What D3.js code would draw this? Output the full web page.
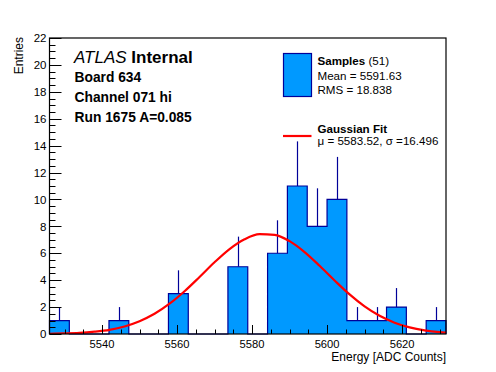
<!DOCTYPE html>
<html>
<head>
<meta charset="utf-8">
<script src="https://cdn.jsdelivr.net/npm/d3@7/dist/d3.min.js"></script>
<style>
html,body{margin:0;padding:0;background:#fff;}
svg{display:block;font-family:"Liberation Sans",Arial,Helvetica,sans-serif;}
</style>
</head>
<body>
<svg id="chart" width="496" height="372"></svg>
<script>
// ---- data ----
const xRange = [5526.0, 5631.7];          // histogram range (20 bins)
const counts = [1,0,0,1,0,0,3,0,0,5,0,6,11,8,10,1,1,2,0,1];
const xTicks = [5540, 5560, 5580, 5600, 5620];
const yTicks = [0,2,4,6,8,10,12,14,16,18,20,22];
// Gaussian fit curve
const fitX = [5526,5530,5534,5538,5542,5546,5550,5554,5558,5562,5566,5570,5574,5578,5582,5586,5590,5594,5598,5602,5606,5610,5614,5618,5622,5626,5630,5632];
const fitY = [0.02,0.04,0.08,0.17,0.31,0.56,0.95,1.50,2.25,3.18,4.24,5.33,6.31,7.04,7.42,7.37,6.90,6.09,5.07,3.98,2.94,2.05,1.35,0.84,0.49,0.27,0.14,0.10];
const legendSamples = ["Samples", "(51)", "Mean = 5591.63", "RMS = 18.838"];
const legendFit = ["Gaussian Fit", "\u03bc = 5583.52, \u03c3 =16.496"];
const labelLines = ["Board 634", "Channel 071 hi", "Run 1675 A=0.085"];

// ---- layout ----
const L = 49.5, R = 446, T = 38, B = 334;
const svg = d3.select("#chart");
const x = d3.scaleLinear().domain(xRange).range([L, R]);
const y = d3.scaleLinear().domain([0, 22]).range([B, T]);

const fillC = "#0099ff", lineC = "#000099";
const nb = counts.length;
const bw = (xRange[1] - xRange[0]) / nb;
const bins = counts.map((c, i) => ({x0: xRange[0] + i*bw, x1: xRange[0] + (i+1)*bw, c}));

// histogram step outline
const pts = [];
pts.push([bins[0].x0, 0]);
bins.forEach(b => { pts.push([b.x0, b.c]); pts.push([b.x1, b.c]); });
pts.push([bins[nb-1].x1, 0]);
const line = d3.line().x(d => x(d[0])).y(d => y(d[1]));
svg.append("path").attr("d", line(pts)).attr("fill", fillC).attr("stroke", lineC).attr("stroke-width", 1.2);

// error bars (upper part visible)
svg.append("g").selectAll("line").data(bins.filter(b => b.c > 0)).join("line")
  .attr("x1", b => Math.round(x((b.x0+b.x1)/2))+0.5).attr("x2", b => Math.round(x((b.x0+b.x1)/2))+0.5)
  .attr("y1", b => y(b.c)).attr("y2", b => y(b.c + Math.sqrt(b.c)))
  .attr("stroke", lineC).attr("stroke-width", 1.2);

// fit curve
svg.append("clipPath").attr("id","clip").append("rect").attr("x",L).attr("y",T).attr("width",R-L).attr("height",B-T);
const fitLine = d3.line().x((d,i) => x(fitX[i])).y(d => y(d)).curve(d3.curveMonotoneX);
svg.append("path").attr("d", fitLine(fitY)).attr("fill","none").attr("stroke","#ff0000").attr("stroke-width",2.2).attr("clip-path","url(#clip)");

// frame
svg.append("rect").attr("x", L).attr("y", T).attr("width", R-L).attr("height", B-T)
  .attr("fill","none").attr("stroke","#000").attr("stroke-width",1.2);

// y axis ticks
const yMinor = d3.range(0, 22.01, 0.5);
svg.append("g").selectAll("line").data(yMinor).join("line")
  .attr("x1", L).attr("x2", d => L + (d % 2 === 0 ? 12 : 6))
  .attr("y1", d => Math.round(y(d))+0.5).attr("y2", d => Math.round(y(d))+0.5)
  .attr("stroke","#000").attr("stroke-width",1);
svg.append("g").selectAll("text").data(yTicks).join("text")
  .attr("x", L - 3).attr("y", d => y(d) + 4.2)
  .attr("text-anchor","end").attr("font-size", "11.5px").text(d => d);

// x axis ticks
const xMinor = d3.range(5530, 5631, 5);
svg.append("g").selectAll("line").data(xMinor).join("line")
  .attr("x1", d => Math.round(x(d))+0.5).attr("x2", d => Math.round(x(d))+0.5)
  .attr("y1", B).attr("y2", d => B - (d % 20 === 0 ? 9 : 4.5))
  .attr("stroke","#000").attr("stroke-width",1);
svg.append("g").selectAll("text").data(xTicks).join("text")
  .attr("x", d => x(d)).attr("y", 347.5)
  .attr("text-anchor","middle").attr("font-size","11.2px").text(d => d);

// axis titles
svg.append("text").attr("x", R).attr("y", 360.5).attr("text-anchor","end").attr("font-size","12px").text("Energy [ADC Counts]");
svg.append("text").attr("transform","translate(23,37) rotate(-90)").attr("text-anchor","end").attr("font-size","12px").text("Entries");

// ATLAS label
const atl = svg.append("text").attr("x", 74).attr("y", 62.5).attr("font-size","17px");
atl.append("tspan").attr("font-style","italic").text("ATLAS");
atl.append("tspan").attr("font-weight","bold").text(" Internal");
labelLines.forEach((t, i) => {
  svg.append("text").attr("x", 74.5).attr("y", 82.3 + i*19.6).attr("font-size","13.8px").attr("font-weight","bold").text(t);
});

// legend
svg.append("rect").attr("x",283.5).attr("y",53.5).attr("width",28).attr("height",43)
  .attr("fill",fillC).attr("stroke",lineC).attr("stroke-width",1.2);
const ls = svg.append("text").attr("x",317.5).attr("y",65).attr("font-size","11.6px");
ls.append("tspan").attr("font-weight","bold").text(legendSamples[0]);
ls.append("tspan").text(" " + legendSamples[1]);
svg.append("text").attr("x",317.5).attr("y",80).attr("font-size","11.6px").text(legendSamples[2]);
svg.append("text").attr("x",317.5).attr("y",93.5).attr("font-size","11.6px").text(legendSamples[3]);
svg.append("line").attr("x1",283).attr("x2",311.5).attr("y1",136).attr("y2",136).attr("stroke","#ff0000").attr("stroke-width",2.2);
svg.append("text").attr("x",317.5).attr("y",132.5).attr("font-size","11.6px").attr("font-weight","bold").text(legendFit[0]);
svg.append("text").attr("x",317.5).attr("y",145).attr("font-size","11.6px").text(legendFit[1]);
</script>
</body>
</html>
